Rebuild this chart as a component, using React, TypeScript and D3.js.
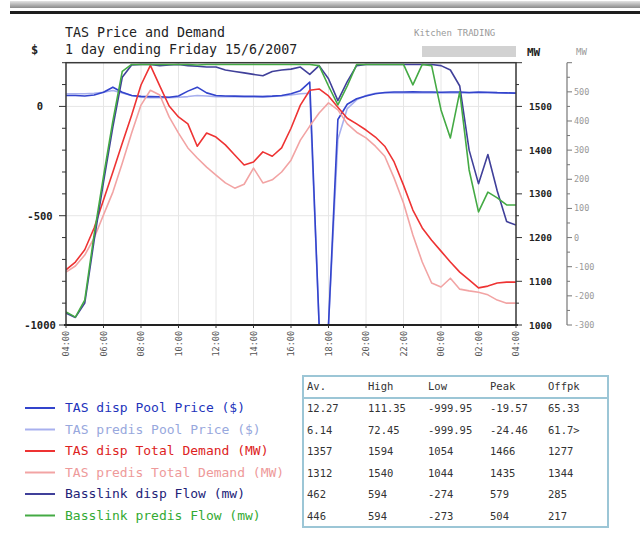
import React from "react";
import * as d3 from "d3";

// ---- data (half-hour grid, 04:00 Thu -> 04:00 Fri) ----
const timeLabels = ["04:00","06:00","08:00","10:00","12:00","14:00","16:00","18:00","20:00","22:00","00:00","02:00","04:00"];
const halfHours = d3.range(0, 24.5, 0.5);

const dispPrice = [50,50,48,52,65,88,65,50,46,45,44,42,48,70,88,62,50,48,47,46,46,45,47,50,58,72,111.35,-999.95,-999.95,-60,10,35,48,58,64,66,66,67,66,66,65,66,66,64,66,65,63,62,61];
const predisPrice = [58,58,58,60,65,72.45,62,50,42,40,40,40,42,45,50,48,45,44,44,44,44,45,46,48,52,58,60,-999.95,-999.95,-150,-10,30,50,60,62,62,62,62,62,62,62,62,62,62,62,62,62,60,60];
const dispDemand = [1126,1144,1172,1222,1286,1350,1416,1480,1549,1594,1547,1501,1476,1460,1409,1439,1430,1412,1389,1366,1373,1396,1386,1405,1450,1503,1537,1540,1524,1498,1473,1460,1446,1430,1409,1373,1320,1263,1222,1194,1169,1144,1121,1103,1085,1089,1096,1098,1098];
const predisDemand = [1121,1135,1160,1199,1252,1304,1370,1439,1503,1537,1526,1476,1439,1405,1382,1361,1343,1325,1313,1322,1359,1325,1332,1350,1377,1423,1455,1485,1508,1492,1460,1441,1428,1409,1386,1336,1279,1206,1144,1096,1087,1107,1082,1078,1075,1069,1057,1050,1050];
const dispFlow = [-259,-274,-225,-10,190,380,550,592,594,594,590,592,594,590,588,585,585,575,570,565,560,555,570,575,578,585,560,590,545,470,535,590,594,594,594,594,594,594,594,594,590,575,520,300,185,285,160,55,43];
const predisFlow = [-255,-273,-215,10,210,400,570,594,594,594,594,594,594,594,592,594,594,594,594,594,594,594,594,594,594,594,594,590,520,455,520,594,594,594,594,594,594,524,594,590,438,342,500,232,88,156,136,112,112];

const priceTicks = [0, -500, -1000];
const mwTicks = [1000, 1100, 1200, 1300, 1400, 1500];
const flowTicks = [500, 400, 300, 200, 100, 0, -100, -200, -300];

const legendNames = [
  "TAS disp Pool Price ($)",
  "TAS predis Pool Price ($)",
  "TAS disp Total Demand (MW)",
  "TAS predis Total Demand (MW)",
  "Basslink disp Flow (mw)",
  "Basslink predis Flow (mw)",
];
const tableHeader = ["Av.", "High", "Low", "Peak", "Offpk"];
const tableRows = [
  ["12.27", "111.35", "-999.95", "-19.57", "65.33"],
  ["6.14", "72.45", "-999.95", "-24.46", "61.7>"],
  ["1357", "1594", "1054", "1466", "1277"],
  ["1312", "1540", "1044", "1435", "1344"],
  ["462", "594", "-274", "579", "285"],
  ["446", "594", "-273", "504", "217"],
];

const lineColors = ["#3344cc", "#a8b0ee", "#ee3333", "#f2a4a4", "#40409a", "#44aa44"];
const textColors = ["#2233bb", "#98a8dd", "#dd2222", "#ee9a9a", "#222277", "#33aa33"];

const MONO = "'DejaVu Sans Mono', 'Liberation Mono', monospace";

export default function App() {
  const L = 66, R = 516, T = 62.7, B = 325;
  const x = d3.scaleLinear().domain([0, 24]).range([L, R]);
  const yP = d3.scaleLinear().domain([-1000, 200]).range([B, T]);
  const yMW = d3.scaleLinear().domain([1000, 1600]).range([B, T]);
  const yF = d3.scaleLinear().domain([-300, 600]).range([B, T]);

  const mk = (vals: number[], y: d3.ScaleLinear<number, number>) =>
    d3.line<number>().x((_, i) => x(halfHours[i])).y((v) => y(v))(vals) || "";

  const series = [
    mk(dispPrice, yP),
    mk(predisPrice, yP),
    mk(dispDemand, yMW),
    mk(predisDemand, yMW),
    mk(dispFlow, yF),
    mk(predisFlow, yF),
  ];
  const drawOrder = [1, 0, 3, 2, 4, 5];

  const xTickHours = timeLabels.map((_, i) => i * 2);
  const priceMinor = d3.range(-1000, 201, 100);
  const mwMinor = d3.range(1000, 1601, 50);
  const flowMinor = d3.range(-300, 601, 50);

  const rowsY = [408, 429.5, 451, 472.5, 494, 515.5];
  const colX = [307, 368, 428, 490, 548];
  const FX = 567;

  return (
    <div style={{ position: "absolute", left: 0, top: 0 }}>
      <svg width={640} height={552} style={{ display: "block", background: "#fff" }}>
        <defs>
          <linearGradient id="hdr" x1="0" y1="0" x2="0" y2="1">
            <stop offset="0" stopColor="#e4e4e4" />
            <stop offset="1" stopColor="#8a8a8a" />
          </linearGradient>
          <clipPath id="plot">
            <rect x={L} y={T} width={R - L} height={B - T} />
          </clipPath>
        </defs>
        <rect x={10} y={1} width={630} height={7} fill="url(#hdr)" />
        <rect x={10} y={11} width={630} height={3} fill="#1e1e1e" />

        <text x={65} y={37} fontFamily={MONO} fontSize={13.3} fill="#222">TAS Price and Demand</text>
        <text x={65} y={54} fontFamily={MONO} fontSize={13.3} fill="#222">1 day ending Friday 15/6/2007</text>
        <text x={31} y={54} fontFamily={MONO} fontSize={12} fontWeight="bold" fill="#222">$</text>
        <text x={414} y={36} fontFamily={MONO} fontSize={9} fill="#9a9a9a">Kitchen TRADING</text>
        <rect x={422} y={46} width={94} height={11} fill="#d2d2d2" />
        <text x={527} y={56} fontFamily={MONO} fontSize={11} fontWeight="bold" fill="#222">MW</text>
        <text x={576} y={55} fontFamily={MONO} fontSize={9} fill="#9a9a9a">MW</text>

        {/* grid */}
        {xTickHours.map((h) => (
          <line key={"gx" + h} x1={x(h)} x2={x(h)} y1={T} y2={B} stroke="#e6e6e6" strokeWidth={1} />
        ))}
        {priceTicks.map((p) => (
          <line key={"gy" + p} x1={L} x2={R} y1={yP(p)} y2={yP(p)} stroke="#e6e6e6" strokeWidth={1} />
        ))}

        {/* series */}
        <g clipPath="url(#plot)" fill="none" strokeLinejoin="round">
          {drawOrder.map((k) => (
            <path key={"s" + k} d={series[k]} stroke={lineColors[k]} strokeWidth={1.6} />
          ))}
        </g>

        {/* frame */}
        <rect x={L} y={T} width={R - L} height={B - T} fill="none" stroke="#3a3a3a" strokeWidth={1.5} />
        <line x1={L - 2} x2={R + 2} y1={B} y2={B} stroke="#222" strokeWidth={2} />

        {/* left price axis */}
        {priceMinor.map((p) => (
          <line key={"pm" + p} x1={L - (p % 500 === 0 ? 7 : 4)} x2={L} y1={yP(p)} y2={yP(p)} stroke="#333" strokeWidth={1} />
        ))}
        {priceTicks.map((p) => (
          <text key={"pl" + p} x={40} y={yP(p) + 4} textAnchor="middle" fontFamily={MONO} fontSize={10.5} fontWeight="bold" fill="#222">
            {p}
          </text>
        ))}

        {/* right MW axis */}
        {mwMinor.map((m) => (
          <line key={"mm" + m} x1={R} x2={R + (m % 100 === 0 ? 6 : 3)} y1={yMW(m)} y2={yMW(m)} stroke="#333" strokeWidth={1} />
        ))}
        {mwTicks.map((m) => (
          <text key={"ml" + m} x={529} y={yMW(m) + 3.5} fontFamily={MONO} fontSize={9.5} fontWeight="bold" fill="#222">
            {m}
          </text>
        ))}

        {/* flow axis */}
        <line x1={FX} x2={FX} y1={T} y2={B} stroke="#777" strokeWidth={1.2} />
        {flowMinor.map((f) => (
          <line key={"fm" + f} x1={FX} x2={FX + (f % 100 === 0 ? 5 : 3)} y1={yF(f)} y2={yF(f)} stroke="#777" strokeWidth={1} />
        ))}
        {flowTicks.map((f) => (
          <text key={"fl" + f} x={FX + 7} y={yF(f) + 3} fontFamily={MONO} fontSize={8.5} fill="#999">
            {f}
          </text>
        ))}

        {/* x axis labels */}
        {timeLabels.map((t, i) => (
          <g key={"xl" + i}>
            <line x1={x(xTickHours[i])} x2={x(xTickHours[i])} y1={B} y2={B + 3} stroke="#333" />
            <text
              transform={`translate(${x(xTickHours[i]) + 3},${B + 6}) rotate(-90)`}
              textAnchor="end"
              fontFamily={MONO}
              fontSize={8.5}
              fill="#555"
            >
              {t}
            </text>
          </g>
        ))}

        {/* legend */}
        {legendNames.map((n, i) => (
          <g key={"lg" + i}>
            <line x1={25} x2={55} y1={rowsY[i]} y2={rowsY[i]} stroke={lineColors[i]} strokeWidth={2} />
            <text x={65} y={rowsY[i] + 4} fontFamily={MONO} fontSize={13} fill={textColors[i]}>
              {n}
            </text>
          </g>
        ))}

        {/* table */}
        <rect x={303} y={376} width={305} height={151} fill="#fff" stroke="#9cc6d6" strokeWidth={2} />
        <line x1={303} x2={608} y1={398} y2={398} stroke="#9cc6d6" strokeWidth={2} />
        {tableHeader.map((h, j) => (
          <text key={"th" + j} x={colX[j]} y={390} fontFamily={MONO} fontSize={10.5} fill="#333">
            {h}
          </text>
        ))}
        {tableRows.map((row, i) =>
          row.map((c, j) => (
            <text key={"td" + i + j} x={colX[j]} y={rowsY[i] + 4} fontFamily={MONO} fontSize={10.5} fill="#333">
              {c}
            </text>
          ))
        )}
      </svg>
    </div>
  );
}
